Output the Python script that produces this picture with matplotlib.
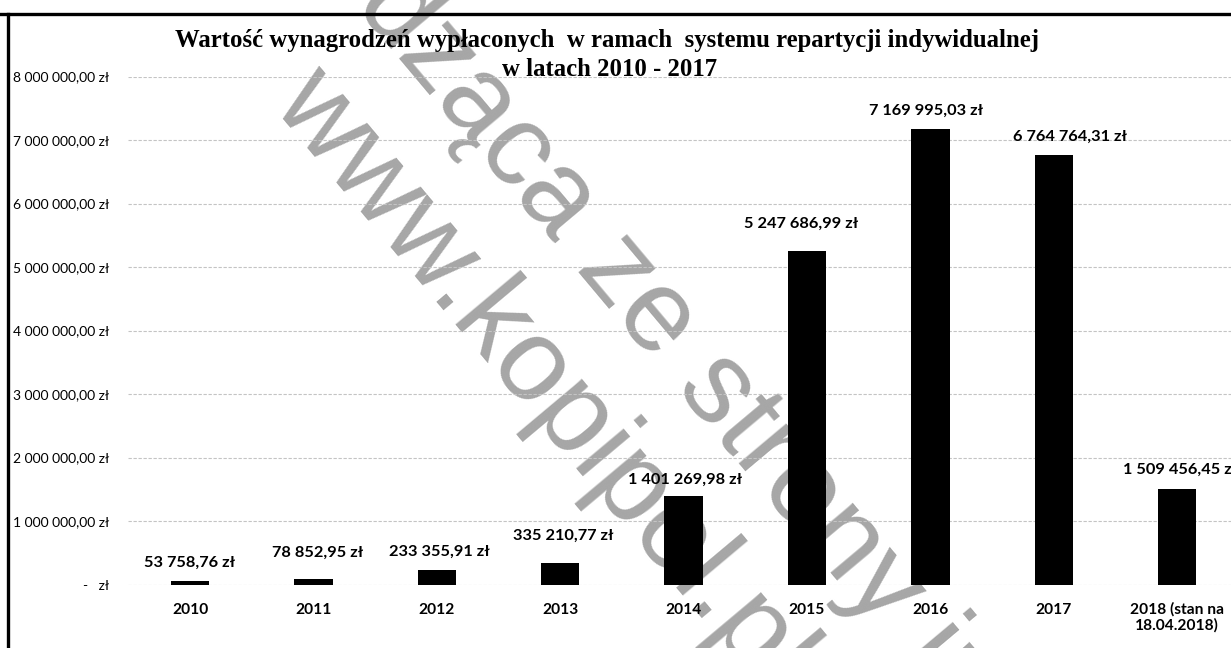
import matplotlib
matplotlib.use("Agg")
import matplotlib.pyplot as plt
from matplotlib.lines import Line2D
import numpy as np

# data
years = ["2010", "2011", "2012", "2013", "2014", "2015", "2016", "2017",
         "2018 (stan na\n18.04.2018)"]
values = [53758.76, 78852.95, 233355.91, 335210.77, 1401269.98,
          5247686.99, 7169995.03, 6764764.31, 1509456.45]
value_labels = ["53 758,76 zł", "78 852,95 zł", "233 355,91 zł", "335 210,77 zł",
                "1 401 269,98 zł", "5 247 686,99 zł", "7 169 995,03 zł",
                "6 764 764,31 zł", "1 509 456,45 zł"]
y_ticks = [0, 1e6, 2e6, 3e6, 4e6, 5e6, 6e6, 7e6, 8e6]
y_tick_labels = ["-   zł", "1 000 000,00 zł", "2 000 000,00 zł", "3 000 000,00 zł",
                 "4 000 000,00 zł", "5 000 000,00 zł", "6 000 000,00 zł",
                 "7 000 000,00 zł", "8 000 000,00 zł"]
title_1 = "Wartość wynagrodzeń wypłaconych  w ramach  systemu repartycji indywidualnej"
title_2 = "w latach 2010 - 2017"

W, H = 1231, 648
fig = plt.figure(figsize=(W / 100, H / 100), dpi=100)
fig.patch.set_facecolor("white")

# plot area in pixels: x 128..1239, y 76.5..584.5
ax = fig.add_axes([128.3 / W, (H - 584.5) / H, 9 * 123.4 / W, 508 / H])
ax.set_facecolor("none")

x = np.arange(len(years))
ax.bar(x, values, width=0.31, color="black", zorder=2)

ax.set_xlim(-0.5, 8.5)
ax.set_ylim(0, 8e6)
ax.set_yticks(y_ticks)
ax.set_yticklabels(y_tick_labels, family="Lato", fontsize=10, ha="right")
ax.set_xticks(x)
ax.set_xticklabels(years, family="Lato", fontweight="bold", fontsize=11.2,
                   linespacing=1.05)
ax.tick_params(axis="y", length=0, pad=14)
ax.tick_params(axis="x", length=0, pad=13)
for s in ax.spines.values():
    s.set_visible(False)
ax.grid(axis="y", color="#c4c4c4", linewidth=0.8, linestyle=(0, (3, 1.5)), zorder=0)
ax.set_axisbelow(True)

# value labels, small hand nudges (px) like in the original
nudge_x = [0, 4, 3, 3, 1, -6, -4, 16, 3]
nudge_y = [0, 9, 0, 9, -2, 9, 0, 0, 1]
for xi, v, lab, dx, dy in zip(x, values, value_labels, nudge_x, nudge_y):
    ax.annotate(lab, (xi, v), xytext=(dx * 0.72, (18 + dy) * 0.72),
                textcoords="offset points", ha="center", va="center",
                family="Lato", fontweight="bold", fontsize=11.8, zorder=4,
                annotation_clip=False)

# titles
fig.text(607 / W, 1 - 40 / H, title_1, ha="center", va="center",
         family="Liberation Serif", fontweight="bold", fontsize=17.8)
fig.text(610 / W, 1 - 69 / H, title_2, ha="center", va="center",
         family="Liberation Serif", fontweight="bold", fontsize=17.8)

# scan watermark, under the bars
wm = dict(ha="center", va="center", rotation=-50, rotation_mode="anchor",
          family="Liberation Sans", fontsize=84, color="#a6a6a6", zorder=-1)
fig.text(542 / W, 1 - 380 / H, "www.kopipol.pl", **wm)
fig.text(750 / W, 1 - 430 / H, "pochodząca ze strony internetowej", **wm)

# frame border (top and left visible)
fig.add_artist(Line2D([0, 1], [1 - 14 / H, 1 - 14 / H], color="black", linewidth=2.4))
fig.add_artist(Line2D([8 / W, 8 / W], [0, 1 - 14 / H], color="black", linewidth=2.4))

fig.savefig("out.png", dpi=100)
